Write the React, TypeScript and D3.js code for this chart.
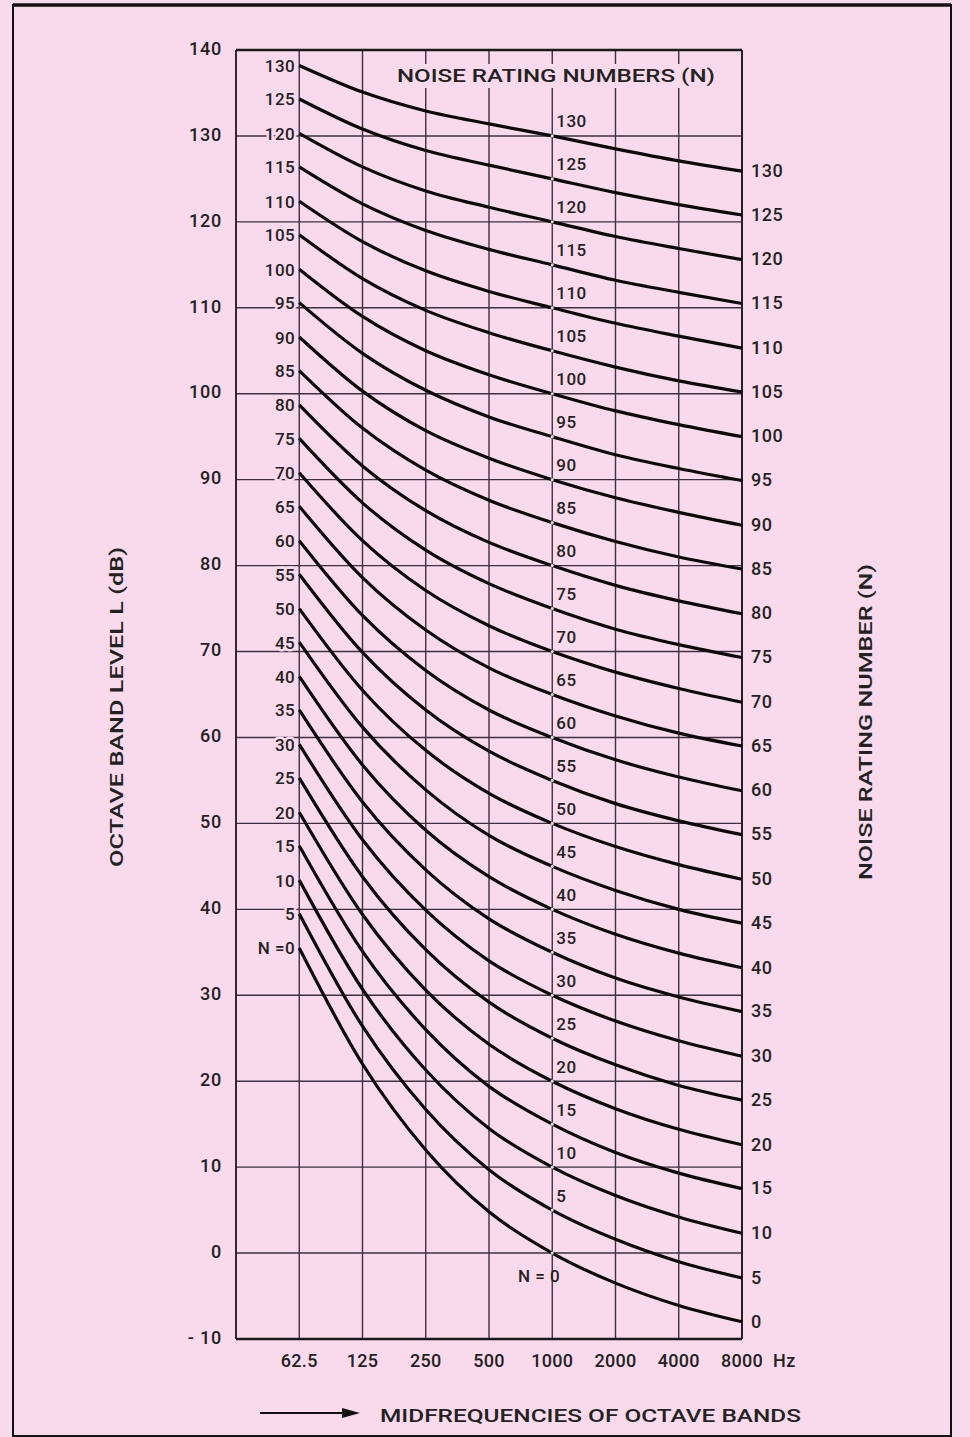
import React from "react";
import * as d3 from "d3";

const FREQS = [62.5, 125, 250, 500, 1000, 2000, 4000, 8000];
const FREQ_LABELS = ["62.5", "125", "250", "500", "1000", "2000", "4000", "8000"];
const Y_TICKS = [-10, 0, 10, 20, 30, 40, 50, 60, 70, 80, 90, 100, 110, 120, 130, 140];
const NR_NUMBERS = [0, 5, 10, 15, 20, 25, 30, 35, 40, 45, 50, 55, 60, 65, 70, 75, 80, 85, 90, 95, 100, 105, 110, 115, 120, 125, 130];

// Octave band level (dB) of each NR curve at the 8 midfrequencies
const NR0 = [35.5, 22.0, 12.0, 4.8, 0, -3.5, -6.1, -8.0];
const NR5 = [39.5, 26.4, 16.7, 9.7, 5, 1.6, -1.0, -2.9];
const NR10 = [43.4, 30.7, 21.3, 14.5, 10, 6.7, 4.2, 2.3];
const NR15 = [47.4, 35.1, 26.0, 19.4, 15, 11.7, 9.3, 7.5];
const NR20 = [51.3, 39.4, 30.6, 24.3, 20, 16.8, 14.4, 12.6];
const NR25 = [55.3, 43.8, 35.3, 29.2, 25, 21.9, 19.5, 17.8];
const NR30 = [59.2, 48.1, 39.9, 34.0, 30, 27.0, 24.7, 22.9];
const NR35 = [63.2, 52.5, 44.6, 38.9, 35, 32.0, 29.8, 28.1];
const NR40 = [67.1, 56.8, 49.2, 43.8, 40, 37.1, 34.9, 33.2];
const NR45 = [71.1, 61.2, 53.9, 48.6, 45, 42.2, 40.0, 38.4];
const NR50 = [75.0, 65.5, 58.5, 53.5, 50, 47.3, 45.2, 43.5];
const NR55 = [79.0, 69.9, 63.2, 58.4, 55, 52.3, 50.3, 48.7];
const NR60 = [82.9, 74.2, 67.8, 63.2, 60, 57.4, 55.4, 53.8];
const NR65 = [86.9, 78.6, 72.5, 68.1, 65, 62.5, 60.5, 59.0];
const NR70 = [90.8, 82.9, 77.1, 73.0, 70, 67.6, 65.7, 64.1];
const NR75 = [94.8, 87.3, 81.8, 77.9, 75, 72.6, 70.8, 69.3];
const NR80 = [98.7, 91.6, 86.4, 82.7, 80, 77.7, 75.9, 74.4];
const NR85 = [102.7, 96.0, 91.1, 87.6, 85, 82.8, 81.0, 79.6];
const NR90 = [106.6, 100.3, 95.7, 92.5, 90, 87.9, 86.2, 84.7];
const NR95 = [110.6, 104.7, 100.4, 97.3, 95, 92.9, 91.3, 89.9];
const NR100 = [114.5, 109.0, 105.0, 102.2, 100, 98.0, 96.4, 95.0];
const NR105 = [118.5, 113.4, 109.7, 107.1, 105, 103.1, 101.5, 100.2];
const NR110 = [122.4, 117.7, 114.3, 111.9, 110, 108.2, 106.7, 105.3];
const NR115 = [126.4, 122.1, 119.0, 116.8, 115, 113.2, 111.8, 110.5];
const NR120 = [130.3, 126.4, 123.6, 121.7, 120, 118.3, 116.9, 115.6];
const NR125 = [134.3, 130.8, 128.3, 126.6, 125, 123.4, 122.0, 120.8];
const NR130 = [138.2, 135.1, 132.9, 131.4, 130, 128.5, 127.1, 125.9];

const NR_CURVES = [NR0, NR5, NR10, NR15, NR20, NR25, NR30, NR35, NR40, NR45, NR50, NR55, NR60, NR65, NR70, NR75, NR80, NR85, NR90, NR95, NR100, NR105, NR110, NR115, NR120, NR125, NR130];

const W = 970;
const H = 1437;
const BG = "#f9daec";
const INK = "#222";
const GRID = "#3d3040";
const FONT = "Roboto, 'Liberation Sans', Arial, sans-serif";

export default function App() {
  const x = d3.scaleLog().base(2).domain([31.25, 8000]).range([236, 742]);
  const y = d3.scaleLinear().domain([-10, 140]).range([1339, 50]);
  const [x0, x1] = x.range();
  const [yb, yt] = y.range();

  const line = d3
    .line<[number, number]>()
    .x((d) => x(d[0]))
    .y((d) => y(d[1]))
    .curve(d3.curveMonotoneX);

  const halo = {
    stroke: BG,
    strokeWidth: 5,
    paintOrder: "stroke" as const,
    strokeLinejoin: "round" as const,
  };

  return (
    <div style={{ position: "absolute", left: 0, top: 0, width: W, height: H }}>
      <svg width={W} height={H} viewBox={`0 0 ${W} ${H}`} style={{ display: "block" }}>
        <rect x={0} y={0} width={W} height={H} fill={BG} />
        {/* outer frame */}
        <line x1={13} y1={5} x2={951} y2={5} stroke="#111" strokeWidth={3.5} />
        <line x1={13} y1={4} x2={13} y2={H} stroke="#111" strokeWidth={2} />
        <line x1={951} y1={4} x2={951} y2={H} stroke="#111" strokeWidth={2} />
        <line x1={13} y1={H - 1} x2={951} y2={H - 1} stroke="#111" strokeWidth={2} />

        {/* horizontal grid */}
        {Y_TICKS.map((t) => (
          <line key={"h" + t} x1={x0} x2={x1} y1={y(t)} y2={y(t)} stroke={GRID} strokeWidth={1.4} />
        ))}
        {/* vertical grid */}
        {FREQS.map((f) => (
          <line key={"v" + f} x1={x(f)} x2={x(f)} y1={yt} y2={yb} stroke={GRID} strokeWidth={1.4} />
        ))}
        {/* plot border */}
        <line x1={x0} x2={x1} y1={yt} y2={yt} stroke="#1a1a1a" strokeWidth={2.6} />
        <line x1={x0} x2={x1} y1={yb} y2={yb} stroke="#1a1a1a" strokeWidth={2.4} />
        <line x1={x0} x2={x0} y1={yt} y2={yb} stroke="#1a1a1a" strokeWidth={1.8} />
        <line x1={x1} x2={x1} y1={yt} y2={yb} stroke="#1a1a1a" strokeWidth={1.8} />

        {/* top title on a background patch that interrupts the grid */}
        <rect x={393} y={64} width={326} height={24} fill={BG} />
        <text
          x={397}
          y={82}
          textLength={318}
          lengthAdjust="spacingAndGlyphs"
          fontFamily={FONT}
          fontSize={18}
          fontWeight={500}
          fill={INK}
        >
          NOISE RATING NUMBERS (N)
        </text>

        {/* NR curves */}
        {NR_CURVES.map((vals, i) => (
          <path
            key={"c" + i}
            d={line(vals.map((v, j) => [FREQS[j], v] as [number, number])) || ""}
            fill="none"
            stroke="#0a0a0a"
            strokeWidth={3.2}
          />
        ))}
        {/* small light dots at 1000 Hz crossings */}
        {NR_CURVES.map((vals, i) => (
          <circle key={"d" + i} cx={x(1000)} cy={y(vals[4])} r={1.6} fill="#ffffff" opacity={0.85} />
        ))}

        <g fontFamily={FONT} fill={INK} fontSize={17} fontWeight={500}>
          {/* left labels at 62.5 Hz */}
          {NR_CURVES.map((vals, i) => (
            <text
              key={"l" + i}
              x={x(62.5) - 4}
              y={y(vals[0]) + 2}
              textAnchor="end"
              dominantBaseline="middle"
              letterSpacing={0.5}
              style={halo}
            >
              {NR_NUMBERS[i] === 0 ? "N =0" : String(NR_NUMBERS[i])}
            </text>
          ))}
          {/* labels at 1000 Hz */}
          {NR_CURVES.map((vals, i) =>
            NR_NUMBERS[i] === 0 ? (
              <text
                key={"m" + i}
                x={x(1000) + 8}
                y={y(vals[4]) + 24}
                textAnchor="end"
                dominantBaseline="middle"
                letterSpacing={0.5}
              >
                N = 0
              </text>
            ) : (
              <text
                key={"m" + i}
                x={x(1000) + 4}
                y={y(vals[4]) - 13}
                dominantBaseline="middle"
                letterSpacing={0.5}
                style={halo}
              >
                {String(NR_NUMBERS[i])}
              </text>
            )
          )}
          {/* right labels at 8000 Hz */}
          {NR_CURVES.map((vals, i) => (
            <text
              key={"r" + i}
              x={x(8000) + 9}
              y={y(vals[7]) + 1}
              dominantBaseline="middle"
              fontSize={18}
              letterSpacing={0.5}
            >
              {String(NR_NUMBERS[i])}
            </text>
          ))}
        </g>

        <g fontFamily={FONT} fill={INK} fontSize={18} fontWeight={500}>
          {/* y axis tick labels */}
          {Y_TICKS.map((t) => (
            <text
              key={"yt" + t}
              x={222}
              y={y(t)}
              textAnchor="end"
              dominantBaseline="middle"
              letterSpacing={0.8}
            >
              {t < 0 ? "- " + Math.abs(t) : String(t)}
            </text>
          ))}
          {/* x axis tick labels */}
          {FREQS.map((f, i) => (
            <text key={"xt" + f} x={x(f)} y={1367} textAnchor="middle" letterSpacing={0.3}>
              {FREQ_LABELS[i]}
            </text>
          ))}
          <text x={773} y={1367} letterSpacing={0.5}>Hz</text>

          {/* bottom title with arrow */}
          <line x1={260} y1={1413} x2={346} y2={1413} stroke="#111" strokeWidth={2} />
          <path d="M342,1408 L360,1413 L342,1418 Z" fill="#111" />
          <text x={380} y={1422} textLength={421} lengthAdjust="spacingAndGlyphs">
            MIDFREQUENCIES OF OCTAVE BANDS
          </text>
          {/* left axis title */}
          <text
            transform={`translate(123, 707) rotate(-90)`}
            textAnchor="middle"
            textLength={320}
            lengthAdjust="spacingAndGlyphs"
          >
            OCTAVE BAND LEVEL L (dB)
          </text>
          {/* right axis title */}
          <text
            transform={`translate(872, 722) rotate(-90)`}
            textAnchor="middle"
            textLength={316}
            lengthAdjust="spacingAndGlyphs"
          >
            NOISE RATING NUMBER (N)
          </text>
        </g>
      </svg>
    </div>
  );
}
